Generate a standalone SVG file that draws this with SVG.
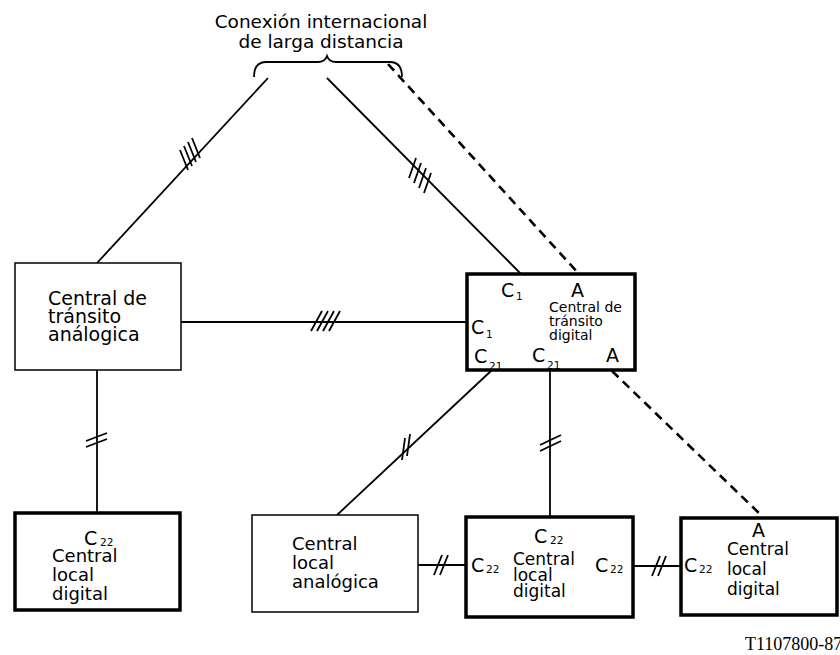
<svg xmlns="http://www.w3.org/2000/svg" width="840" height="655" viewBox="0 0 840 655">
<style>
.t{font-family:"DejaVu Sans","Liberation Sans",sans-serif;fill:#000}
.b{font-size:18px}
.s{font-size:14px}
.c{font-size:19px}
.sub{font-size:10.5px}
.thin{fill:#fff;stroke:#000;stroke-width:1.5}
.thick{fill:#fff;stroke:#000;stroke-width:3.5}
.ln{stroke:#000;stroke-width:1.8;fill:none}
.tk{stroke:#000;stroke-width:1.8;fill:none}
.dash{stroke:#000;stroke-width:2.6;fill:none;stroke-dasharray:9 6}
</style>
<rect width="840" height="655" fill="#fff"/>
<g id="title">
<text class="t" x="321" y="28" font-size="18.5" text-anchor="middle">Conexión internacional</text>
<text class="t" x="321" y="48" font-size="18.5" text-anchor="middle">de larga distancia</text>
<path d="M254,77 Q254,62 266,62 L318,62 Q325,62 327,56 Q329,62 336,62 L390,62 Q402,62 402,77" class="ln"/>
</g>
<g id="connectors">
<line x1="268" y1="78" x2="97" y2="263" class="ln"/>
<line x1="327" y1="78" x2="521" y2="274" class="ln"/>
<line x1="388" y1="64" x2="579" y2="274" class="dash"/>
<line x1="612" y1="371" x2="763" y2="517" class="dash"/>
<line x1="181" y1="322" x2="467" y2="322" class="ln"/>
<line x1="97" y1="370" x2="97" y2="513" class="ln"/>
<line x1="492" y1="370" x2="337" y2="515" class="ln"/>
<line x1="550" y1="370" x2="550" y2="517" class="ln"/>
<line x1="418" y1="565" x2="466" y2="565" class="ln"/>
<line x1="633" y1="566" x2="681" y2="566" class="ln"/>
<g class="tk">
<path d="M180,150 l8,20 M184,146 l8,20 M188,142 l8,20 M192,138 l8,20"/>
<path d="M416,158 l-7,20 M421,163 l-7,20 M426,168 l-7,20 M431,173 l-7,20"/>
<path d="M322,311 l-11,20 M328,311 l-11,20 M334,311 l-11,20 M340,311 l-11,20"/>
<path d="M86,441 l21,-8 M86,447 l21,-8"/>
<path d="M405,438 l-3,22 M410,434 l-3,22"/>
<path d="M540,445 l21,-10 M540,451 l21,-10"/>
<path d="M442,555 l-8,20 M448,555 l-8,20"/>
<path d="M660,556 l-8,20 M666,556 l-8,20"/>
</g>
</g>
<g id="transito-analogica">
<rect x="15" y="263" width="166" height="107" class="thin"/>
<text class="t" x="48" y="305" font-size="19">Central de</text>
<text class="t" x="48" y="323" font-size="19">tránsito</text>
<text class="t" x="48" y="341" font-size="19">análogica</text>
</g>
<g id="transito-digital">
<rect x="467" y="274" width="168" height="96" class="thick"/>
<text class="t c" x="501" y="297">C</text><text class="t sub" x="516" y="300">1</text>
<text class="t c" x="571" y="297" font-size="20">A</text>
<text class="t s" x="549" y="312">Central de</text>
<text class="t s" x="549" y="326">tránsito</text>
<text class="t s" x="549" y="340">digital</text>
<text class="t c" x="471" y="334">C</text><text class="t sub" x="486" y="338">1</text>
<text class="t c" x="474" y="363">C</text><text class="t sub" x="489" y="370">21</text>
<text class="t c" x="532" y="362">C</text><text class="t sub" x="547" y="369">21</text>
<text class="t c" x="606" y="362" font-size="20">A</text>
</g>
<g id="local-digital-1">
<rect x="15" y="513" width="165" height="97" class="thick"/>
<text class="t c" x="84" y="545">C</text><text class="t sub" x="100" y="546">22</text>
<text class="t b" x="52" y="562">Central</text>
<text class="t b" x="52" y="581">local</text>
<text class="t b" x="52" y="600">digital</text>
</g>
<g id="local-analogica">
<rect x="252" y="515" width="166" height="97" class="thin"/>
<text class="t b" x="292" y="550">Central</text>
<text class="t b" x="292" y="569">local</text>
<text class="t b" x="292" y="588">analógica</text>
</g>
<g id="local-digital-2">
<rect x="466" y="517" width="167" height="100" class="thick"/>
<text class="t c" x="534" y="543">C</text><text class="t sub" x="550" y="544">22</text>
<text class="t c" x="471" y="572">C</text><text class="t sub" x="486" y="573">22</text>
<text class="t" x="513" y="565" font-size="17">Central</text>
<text class="t" x="513" y="581" font-size="17">local</text>
<text class="t" x="513" y="597" font-size="17">digital</text>
<text class="t c" x="595" y="572">C</text><text class="t sub" x="610" y="573">22</text>
</g>
<g id="local-digital-3">
<rect x="681" y="518" width="156" height="97" class="thick"/>
<text class="t c" x="752" y="537">A</text>
<text class="t" x="727" y="555" font-size="17">Central</text>
<text class="t" x="727" y="575" font-size="17">local</text>
<text class="t" x="727" y="595" font-size="17">digital</text>
<text class="t c" x="684" y="572">C</text><text class="t sub" x="699" y="573">22</text>
</g>
<text x="745" y="650" style="font-family:'Liberation Serif',serif;font-size:18px">T1107800-87</text>
</svg>
